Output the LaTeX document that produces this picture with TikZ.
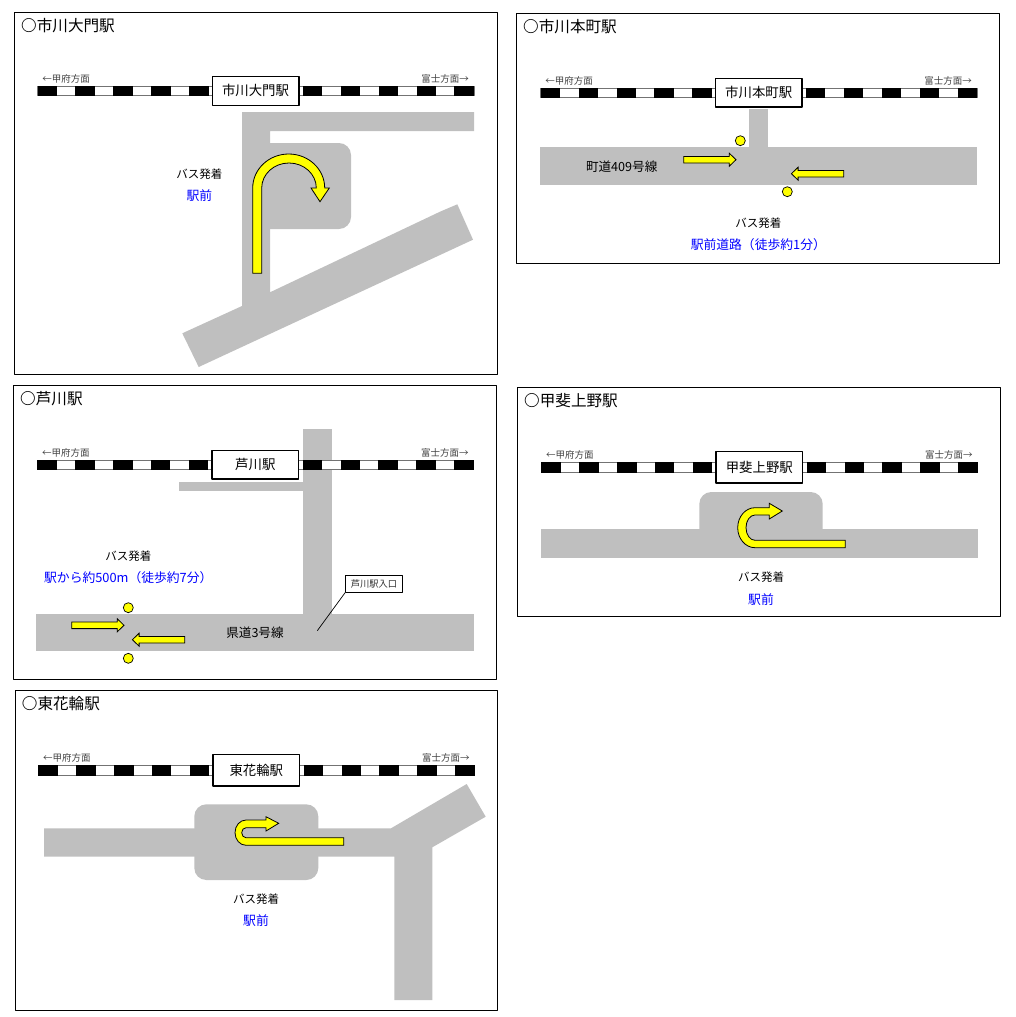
\documentclass[tikz,border=0pt]{standalone}
\usepackage{fontspec}
\setmainfont{Noto Sans CJK JP}
\usepackage{xcolor}
\definecolor{roadgray}{RGB}{191,191,191}
\definecolor{routeyellow}{RGB}{255,255,0}
\definecolor{stopblue}{RGB}{0,0,255}
\tikzset{
    roadfill/.style={fill=roadgray},
    routearrow/.style={fill=routeyellow, draw=black, line width=0.8pt, line join=miter},
    busstop/.style={fill=routeyellow, draw=black, line width=0.7pt},
    framebox/.style={draw=black, line width=1pt},
    trackbase/.style={fill=white, draw=black!55, line width=0.8pt},
    stationbox/.style={shape=rectangle, draw=black, fill=white, line width=1.3pt, minimum width=86.7pt, inner sep=0pt, font=\fontsize{13.4pt}{13.4pt}\selectfont},
    titletext/.style={anchor=west, inner sep=0pt, font=\fontsize{15.6pt}{16pt}\selectfont},
    dirtext/.style={inner sep=0pt, text=black!75, font=\fontsize{9.5pt}{10pt}\selectfont},
    bustext/.style={inner sep=0pt, font=\fontsize{11.5pt}{12pt}\selectfont},
    roadtext/.style={inner sep=0pt, font=\fontsize{12.6pt}{13pt}\selectfont},
    placetext/.style={inner sep=0pt, text=stopblue, font=\fontsize{12.8pt}{13pt}\selectfont},
    entrybox/.style={shape=rectangle, draw=black, fill=white, line width=0.7pt, minimum width=57pt, minimum height=16.5pt, inner sep=0pt, text=black!80, font=\fontsize{9.3pt}{10pt}\selectfont}
}
\begin{document}
\begin{tikzpicture}[yscale=-1, line join=bevel]
    \useasboundingbox (0pt, 0pt) rectangle (1016pt, 1017pt);
    % Roads
    \fill[roadfill] (242pt, 112pt) -- (474pt, 112pt) -- (474pt, 131pt) -- (270pt, 131pt) -- (270pt, 292.3pt) -- (440pt, 211.7pt) -- (457.3pt, 204.3pt) -- (473pt, 239.7pt) -- (198.7pt, 367pt) -- (182.3pt, 333.3pt) -- (242pt, 306pt) -- cycle;
    \fill[roadfill, rounded corners=12pt] (250pt, 143pt) rectangle (351pt, 229pt);
    \fill[roadfill] (748.7pt, 109.3pt) rectangle (767.7pt, 148pt);
    \fill[roadfill] (540.3pt, 147.3pt) rectangle (976.7pt, 185pt);
    \fill[roadfill] (303pt, 429.3pt) rectangle (331.7pt, 615pt);
    \fill[roadfill] (179.3pt, 481.7pt) rectangle (303pt, 491pt);
    \fill[roadfill] (36.3pt, 614pt) rectangle (473.7pt, 651.3pt);
    \fill[roadfill, rounded corners=12pt] (699.3pt, 492pt) rectangle (822.7pt, 550pt);
    \fill[roadfill] (541.3pt, 529.3pt) rectangle (977.7pt, 557.7pt);
    \fill[roadfill] (44pt, 828.3pt) -- (391pt, 828.3pt) -- (466.7pt, 784pt) -- (485.7pt, 816.7pt) -- (432.3pt, 847.3pt) -- (432.3pt, 1000pt) -- (394.3pt, 1000pt) -- (394.3pt, 856.7pt) -- (44pt, 856.7pt) -- cycle;
    \fill[roadfill, rounded corners=12pt] (194.3pt, 804.3pt) rectangle (318.3pt, 880pt);
    % Panels
    \foreach \key/\fl/\ft/\fr/\fb/\tx/\ty/\th/\bh/\name in {
        daimon/14.3pt/12.3pt/497.7pt/374.3pt/37.5pt/86pt/9.7pt/28.7pt/市川大門駅,
        honcho/516.3pt/13.3pt/999.7pt/263.3pt/540.7pt/88pt/9.7pt/28.4pt/市川本町駅,
        ashikawa/13.3pt/385pt/496.3pt/679pt/37.3pt/460pt/9.7pt/28.3pt/芦川駅,
        uenono/517.3pt/387.3pt/1000.3pt/616.7pt/541.3pt/462pt/10.7pt/31.3pt/甲斐上野駅,
        hanawa/15pt/690pt/497.7pt/1010.7pt/38.3pt/765pt/10.7pt/31.3pt/東花輪駅} {
        \draw[framebox] (\fl, \ft) rectangle (\fr, \fb);
        \node[titletext] (\key-title) at (\fl+6.7pt, \ft+13.7pt) {\textbf{○}\name};
        \draw[trackbase] (\tx, \ty) rectangle (\tx+436.5pt, \ty+\th);
        \foreach \k in {0,...,4} {
            \fill[black] (\tx+\k*37.9pt, \ty) rectangle (\tx+\k*37.9pt+19.4pt, \ty+\th);
            \fill[black] (\tx+265.3pt+\k*37.9pt, \ty) rectangle (\tx+284.7pt+\k*37.9pt, \ty+\th);
        }
        \node[stationbox, minimum height=\bh] (\key-box) at (\tx+218pt, \ty+0.5*\th) {\name};
        \node[dirtext] (\key-west) at (\tx+28.5pt, \ty-7.5pt) {←甲府方面};
        \node[dirtext] (\key-east) at (\tx+407.5pt, \ty-7.5pt) {富士方面→};
    }
    % Bus labels
    \foreach \key/\x/\y/\ytwo/\place in {
        daimon/199.3pt/174.3pt/196pt/駅前,
        honcho/758.3pt/223.3pt/245pt/駅前道路（徒歩約1分）,
        ashikawa/128.3pt/555.7pt/577.3pt/駅から約500m（徒歩約7分）,
        uenono/761pt/577.3pt/600pt/駅前,
        hanawa/256pt/899.3pt/921pt/駅前} {
        \node[bustext] (\key-bus) at (\x, \y) {バス発着};
        \node[placetext] (\key-place) at (\x, \ytwo) {\place};
    }
    \node[roadtext] (honcho-road) at (621.7pt, 166.3pt) {町道409号線};
    \node[roadtext] (ashikawa-road) at (255pt, 632.7pt) {県道3号線};
    % Entrance label
    \node[entrybox] (ashikawa-entry) at (374pt, 584pt) {芦川駅入口};
    \coordinate (ashikawa-tip) at (317.3pt, 630.7pt);
    \draw[line width=0.7pt] (ashikawa-entry.south west) -- (ashikawa-tip);
    % Bus stops
    \foreach \x/\y in {740.3pt/140.7pt, 787.3pt/191.7pt, 128.3pt/607.7pt, 128.3pt/658.3pt} {
        \filldraw[busstop] (\x, \y) circle (5pt);
    }
    % Straight arrows
    \foreach \x/\y/\s in {683.7pt/159.7pt/1, 843.7pt/173.7pt/-1, 71.7pt/625.3pt/1, 184.7pt/639.7pt/-1} {
        \draw[routearrow] (\x, \y-3.3pt) -- (\x+\s*45.6pt, \y-3.3pt) -- (\x+\s*45.6pt, \y-6.5pt) -- (\x+\s*52.3pt, \y) -- (\x+\s*45.6pt, \y+6.5pt) -- (\x+\s*45.6pt, \y+3.3pt) -- (\x, \y+3.3pt) -- cycle;
    }
    % Curved arrows
    \draw[routearrow] (252.7pt, 273.3pt) -- (252.7pt, 188pt) arc[start angle=180, end angle=360, x radius=36pt, y radius=34pt] -- (329.3pt, 188pt) -- (320pt, 201.7pt) -- (311pt, 188pt) -- (316.3pt, 188pt) arc[start angle=360, end angle=180, x radius=27.3pt, y radius=25pt] -- (261.7pt, 273.3pt) -- cycle;
    \draw[routearrow] (845.3pt, 547.7pt) -- (755pt, 547.7pt) arc[start angle=90, end angle=270, x radius=17.3pt, y radius=20pt] -- (769.3pt, 507.7pt) -- (769.3pt, 503.3pt) -- (782.3pt, 511pt) -- (769.3pt, 519pt) -- (769.3pt, 515pt) -- (755pt, 515pt) arc[start angle=270, end angle=90, x radius=9pt, y radius=12.65pt] -- (845.3pt, 540.3pt) -- cycle;
    \draw[routearrow] (343.7pt, 845.3pt) -- (246pt, 845.3pt) arc[start angle=90, end angle=270, x radius=11pt, y radius=12.65pt] -- (266pt, 820pt) -- (266pt, 816.7pt) -- (278.7pt, 823.3pt) -- (266pt, 831pt) -- (266pt, 827.7pt) -- (246pt, 827.7pt) arc[start angle=270, end angle=90, x radius=4.3pt, y radius=5pt] -- (343.7pt, 837.7pt) -- cycle;
\end{tikzpicture}
\end{document}
